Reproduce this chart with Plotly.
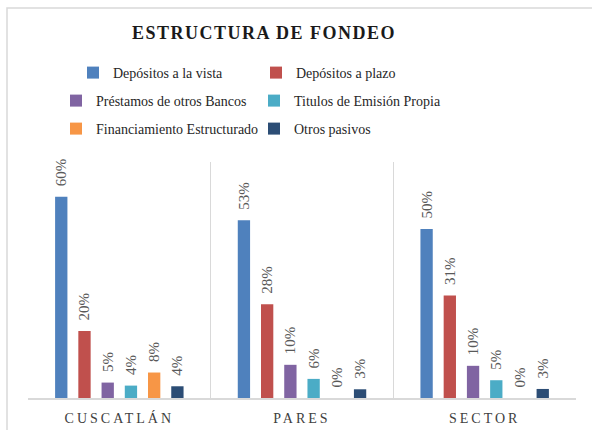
import plotly.graph_objects as go

categories = ["CUSCATLÁN", "PARES", "SECTOR"]
series_names = [
    "Depósitos a la vista",
    "Depósitos a plazo",
    "Préstamos de otros Bancos",
    "Titulos de Emisión Propia",
    "Financiamiento Estructurado",
    "Otros pasivos",
]
depositos_vista = [60.0, 53.0, 50.4]
depositos_plazo = [20.0, 28.0, 30.6]
prestamos_bancos = [4.6, 9.9, 9.6]
titulos_emision = [3.7, 5.7, 5.3]
financiamiento_estr = [7.6, 0.0, 0.0]
otros_pasivos = [3.5, 2.6, 2.7]

series_values = [depositos_vista, depositos_plazo, prestamos_bancos,
                 titulos_emision, financiamiento_estr, otros_pasivos]
colors = ["#4F81BD", "#C0504D", "#8064A2", "#4BACC6", "#F79646", "#2C4D75"]

SERIF = "Liberation Serif, Times New Roman, serif"

# plot area geometry (px)
L, R, T, B = 28, 16, 162, 32
W, H = 592, 430
pw, ph = W - L - R, H - T - B

def px_x(p):
    return (p - L) / pw

def px_y(p):
    return (H - B - p) / ph

# legend entry text positions (px): (text left, row centre)
legend_pos = [(114, 73), (297, 73), (97, 101), (295, 101), (97, 129), (295, 129)]
legend_ids = ["legend"] + ["legend%d" % i for i in range(2, 7)]

fig = go.Figure()
for name, vals, col, lg in zip(series_names, series_values, colors, legend_ids):
    fig.add_trace(go.Bar(
        x=categories, y=vals, name=name, legend=lg,
        marker=dict(color=col, line=dict(width=0)),
        texttemplate="\u00a0\u00a0%{y:.0f}%", textposition="outside", textangle=-90,
        textfont=dict(family=SERIF, size=15, color="#595959"),
        constraintext="none", cliponaxis=False,
    ))

legends = {}
for lg, (tx, ty) in zip(legend_ids, legend_pos):
    legends[lg] = dict(orientation="h", xanchor="left", yanchor="middle",
                       x=px_x(tx - 41), y=px_y(ty),
                       font=dict(family=SERIF, size=14, color="#262626"),
                       bgcolor="rgba(0,0,0,0)")

fig.update_layout(
    width=W, height=H,
    margin=dict(l=L, r=R, t=T, b=B, autoexpand=False),
    paper_bgcolor="white", plot_bgcolor="white",
    barmode="group", bargap=0.237, bargroupgap=0.47,
    title=dict(text="<b>ESTRUCTURA DE FONDEO</b>", x=px_x(264), xref="paper", xanchor="center",
               y=1 - 33 / H, yref="container", yanchor="middle",
               font=dict(family=SERIF, size=18, color="#1a1a1a")),
    xaxis=dict(tickson="boundaries", showgrid=True, gridcolor="#D9D9D9", gridwidth=1,
               showline=True, linecolor="#D9D9D9", linewidth=1.5, ticks="",
               tickfont=dict(family=SERIF, size=14, color="#404040"),
               ticklabelstandoff=6, zeroline=False),
    yaxis=dict(range=[0, 70.4], showgrid=False, showticklabels=False, zeroline=False,
               showline=False, ticks=""),
    showlegend=True,
    **legends,
)

# outer chart border (light gray), partly outside the page like the reference
fig.add_shape(type="rect", xref="paper", yref="paper",
              x0=px_x(7), x1=px_x(600), y0=px_y(440), y1=px_y(8),
              line=dict(color="#D9D9D9", width=1.5), fillcolor="rgba(0,0,0,0)", layer="below")

post = """
document.body.style.margin='0';
document.body.style.overflow='hidden';
var gd = document.getElementById('{plot_id}');
function spacing(){
  gd.querySelectorAll('.gtitle').forEach(function(e){ e.style.letterSpacing='1.5px'; });
  gd.querySelectorAll('.xtick text').forEach(function(e){ e.style.letterSpacing='3px'; });
}
spacing();
gd.on('plotly_afterplot', spacing);
"""

fig.write_html("out.html", post_script=post, config={"displayModeBar": False})
